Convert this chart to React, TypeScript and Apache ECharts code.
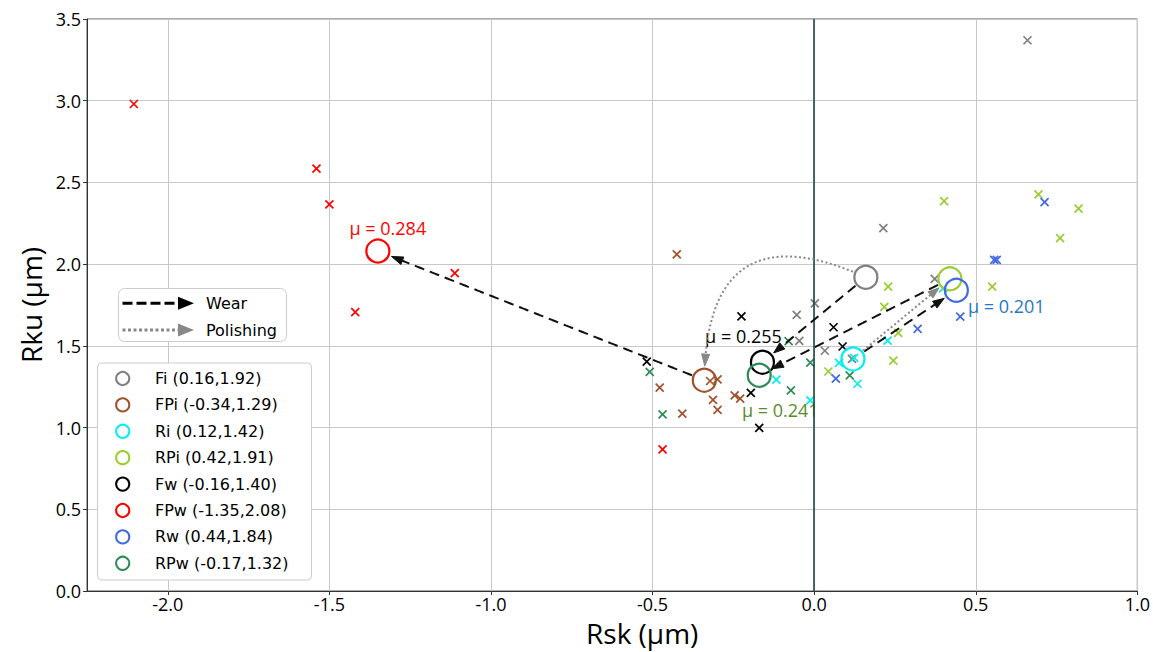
import React, { useEffect, useRef } from 'react';
import * as echarts from 'echarts';

// ---- data ----
const groups = ['Fi', 'FPi', 'Ri', 'RPi', 'Fw', 'FPw', 'Rw', 'RPw'];
const groupColors = ['#808080', '#a0522d', '#00f0f0', '#9acd32', '#000000', '#ff0000', '#4169e1', '#2e8b57'];
const meanRsk = [0.16, -0.34, 0.12, 0.42, -0.16, -1.35, 0.44, -0.17];
const meanRku = [1.92, 1.29, 1.42, 1.91, 1.40, 2.08, 1.84, 1.32];

const fiRsk = [0.66, 0.214, 0.002, -0.054, -0.046, 0.033, 0.117, 0.373];
const fiRku = [3.37, 2.22, 1.76, 1.69, 1.53, 1.47, 1.42, 1.91];
const fpiRsk = [-0.322, -0.299, -0.478, -0.408, -0.313, -0.299, -0.246, -0.229, -0.425];
const fpiRku = [1.285, 1.295, 1.244, 1.085, 1.169, 1.108, 1.197, 1.177, 2.06];
const riRsk = [-0.117, -0.012, 0.077, 0.124, 0.134, 0.227, 0.399];
const riRku = [1.293, 1.166, 1.396, 1.427, 1.268, 1.532, 1.852];
const rpiRsk = [0.402, 0.694, 0.818, 0.761, 0.551, 0.229, 0.217, 0.26, 0.245, 0.044];
const rpiRku = [2.386, 2.427, 2.34, 2.159, 1.862, 1.862, 1.738, 1.579, 1.41, 1.343];
const fwRsk = [-0.518, -0.225, -0.196, -0.17, 0.06, 0.088];
const fwRku = [1.404, 1.681, 1.212, 0.998, 1.614, 1.496];
const fpwRsk = [-2.105, -1.54, -1.5, -1.42, -1.112, -0.469];
const fpwRku = [2.98, 2.585, 2.366, 1.707, 1.945, 0.866];
const rwRsk = [0.713, 0.557, 0.565, 0.452, 0.32, 0.067];
const rwRku = [2.38, 2.026, 2.026, 1.679, 1.604, 1.299];
const rpwRsk = [-0.509, -0.469, -0.072, -0.079, -0.012, 0.11];
const rpwRku = [1.341, 1.081, 1.227, 1.529, 1.398, 1.319];

const sampleRsk = [fiRsk, fpiRsk, riRsk, rpiRsk, fwRsk, fpwRsk, rwRsk, rpwRsk];
const sampleRku = [fiRku, fpiRku, riRku, rpiRku, fwRku, fpwRku, rwRku, rpwRku];

const muGroups = ['FPw', 'Fw', 'RPw', 'Rw'];
const muValues = [0.284, 0.255, 0.241, 0.201];

const wearFrom = ['FPi', 'Fi', 'Ri', 'RPi'];
const wearTo = ['FPw', 'Fw', 'Rw', 'RPw'];
const polishFrom = ['Fi', 'Ri'];
const polishTo = ['FPi', 'RPi'];
const polishBend = [0.76, 0];

const xTicks = [-2.0, -1.5, -1.0, -0.5, 0.0, 0.5, 1.0];
const zeroLine = 0;

// ---- styles ----
const muLabelStyle: Record<string, { color: string; offset: number[] }> = {
  FPw: { color: '#ff0000', offset: [10, -23] },
  Fw: { color: '#000000', offset: [-19, -26] },
  RPw: { color: '#5a8c2c', offset: [21, 35] },
  Rw: { color: '#1f78c8', offset: [50, 16] },
};

const idx = (g: string) => groups.indexOf(g);

function renderArrow(params: any, api: any) {
  const s = api.coord([api.value(0), api.value(1)]);
  const e = api.coord([api.value(2), api.value(3)]);
  const kind = api.value(4);
  const bend = api.value(5);
  const dx = e[0] - s[0];
  const dy = e[1] - s[1];
  const cx = (s[0] + e[0]) / 2 - bend * dy;
  const cy = (s[1] + e[1]) / 2 + bend * dx;
  const N = 240;
  const pts: number[][] = [];
  for (let i = 0; i <= N; i++) {
    const t = i / N;
    const a = (1 - t) * (1 - t);
    const b = 2 * t * (1 - t);
    const c = t * t;
    pts.push([a * s[0] + b * cx + c * e[0], a * s[1] + b * cy + c * e[1]]);
  }
  const d = (p: number[], q: number[]) => Math.hypot(p[0] - q[0], p[1] - q[1]);
  const rA = 13;
  const rB = 14;
  let i0 = 0;
  while (i0 < N && d(pts[i0], s) < rA) i0++;
  let i1 = N;
  while (i1 > 0 && d(pts[i1], e) < rB) i1--;
  const tip = pts[i1];
  const headL = 11;
  const headW = 4;
  let ib = i1;
  while (ib > i0 && d(pts[ib], tip) < headL) ib--;
  const base = pts[ib];
  const len = d(tip, base) || 1;
  const ux = (tip[0] - base[0]) / len;
  const uy = (tip[1] - base[1]) / len;
  const nx = -uy;
  const ny = ux;
  const col = kind === 0 ? '#111111' : '#888888';
  const line = pts.slice(i0, ib + 1);
  return {
    type: 'group',
    children: [
      {
        type: 'polyline',
        shape: { points: line },
        style: { stroke: col, lineWidth: 2, lineDash: kind === 0 ? [10, 6] : [2, 2.5], fill: 'none' },
      },
      {
        type: 'polygon',
        shape: {
          points: [tip, [base[0] + nx * headW, base[1] + ny * headW], [base[0] - nx * headW, base[1] - ny * headW]],
        },
        style: { fill: col, stroke: col, lineWidth: 1 },
      },
    ],
  };
}

function buildOption() {
  const crossPath = 'path://M0,0L10,10M10,0L0,10';
  const sampleSeries = groups.map((g, i) => ({
    type: 'scatter',
    name: g + ' samples',
    data: sampleRsk[i].map((x, j) => [x, sampleRku[i][j]]),
    symbol: crossPath,
    symbolSize: 8,
    itemStyle: { color: groupColors[i], borderColor: groupColors[i], borderWidth: 1.7, opacity: 1 },
    z: 2,
    silent: true,
    ...(i === 0
      ? {
          markLine: {
            silent: true,
            symbol: 'none',
            label: { show: false },
            lineStyle: { color: '#1f4646', width: 1.6, type: 'solid', opacity: 1 },
            data: [{ xAxis: zeroLine }],
          },
        }
      : {}),
  }));

  const meanSeries = groups.map((g, i) => {
    const mi = muGroups.indexOf(g);
    const st = muLabelStyle[g];
    return {
      type: 'scatter',
      name: g,
      data: [[meanRsk[i], meanRku[i]]],
      symbol: 'circle',
      symbolSize: 23,
      itemStyle: { color: 'rgba(0,0,0,0)', borderColor: groupColors[i], borderWidth: 2.2, opacity: 1 },
      z: 3,
      silent: true,
      label:
        mi >= 0
          ? {
              show: true,
              position: 'inside',
              offset: st.offset,
              formatter: 'μ = ' + muValues[mi].toFixed(3),
              color: st.color,
              fontSize: 18,
              fontFamily: 'Open Sans',
            }
          : { show: false },
    };
  });

  const arrowData = [
    ...wearFrom.map((f, i) => [meanRsk[idx(f)], meanRku[idx(f)], meanRsk[idx(wearTo[i])], meanRku[idx(wearTo[i])], 0, 0]),
    ...polishFrom.map((f, i) => [
      meanRsk[idx(f)],
      meanRku[idx(f)],
      meanRsk[idx(polishTo[i])],
      meanRku[idx(polishTo[i])],
      1,
      polishBend[i],
    ]),
  ];

  const arrowSeries = {
    type: 'custom',
    name: 'arrows',
    data: arrowData,
    encode: { x: [0, 2], y: [1, 3] },
    renderItem: renderArrow,
    clip: false,
    silent: true,
    z: 5,
  };

  // legend graphics
  const leg2Top = 363;
  const rowY0 = 378.5;
  const rowDy = 26.4;
  const legendItems: any[] = [
    {
      type: 'rect',
      shape: { x: 97.5, y: leg2Top, width: 214, height: 217, r: 4 },
      style: { fill: '#ffffff', stroke: '#cccccc', lineWidth: 1 },
      z: 100,
    },
  ];
  groups.forEach((g, i) => {
    const y = rowY0 + i * rowDy;
    legendItems.push({
      type: 'circle',
      shape: { cx: 122.7, cy: y, r: 6.6 },
      style: { fill: '#ffffff', stroke: groupColors[i], lineWidth: 2 },
      z: 101,
    });
    legendItems.push({
      type: 'text',
      x: 155,
      y,
      style: {
        text: `${g} (${meanRsk[i].toFixed(2)},${meanRku[i].toFixed(2)})`,
        fill: '#000000',
        font: '16px "DejaVu Sans"',
        verticalAlign: 'middle',
        align: 'left',
      },
      z: 101,
    });
  });

  const wearY = 303.3;
  const polY = 330;
  const arrowKey: any[] = [
    {
      type: 'rect',
      shape: { x: 118.5, y: 288.5, width: 168, height: 53, r: 6 },
      style: { fill: '#ffffff', stroke: '#cccccc', lineWidth: 1 },
      z: 100,
    },
    {
      type: 'line',
      shape: { x1: 122.5, y1: wearY, x2: 181, y2: wearY },
      style: { stroke: '#000000', lineWidth: 3, lineDash: [10, 4] },
      z: 101,
    },
    {
      type: 'polygon',
      shape: { points: [[194, wearY], [178, wearY - 6.5], [178, wearY + 6.5]] },
      style: { fill: '#000000' },
      z: 101,
    },
    {
      type: 'line',
      shape: { x1: 122.5, y1: polY, x2: 179, y2: polY },
      style: { stroke: '#888888', lineWidth: 3, lineDash: [3, 2.5] },
      z: 101,
    },
    {
      type: 'polygon',
      shape: { points: [[194, polY], [178, polY - 6.5], [178, polY + 6.5]] },
      style: { fill: '#888888' },
      z: 101,
    },
    {
      type: 'text',
      x: 206,
      y: wearY,
      style: { text: 'Wear', fill: '#000', font: '16px "DejaVu Sans"', verticalAlign: 'middle' },
      z: 101,
    },
    {
      type: 'text',
      x: 206,
      y: polY,
      style: { text: 'Polishing', fill: '#000', font: '16px "DejaVu Sans"', verticalAlign: 'middle' },
      z: 101,
    },
  ];

  return {
    animation: false,
    backgroundColor: '#ffffff',
    grid: {
      left: 87,
      right: 10,
      top: 19,
      bottom: 59,
      show: true,
      borderColor: '#555555',
      borderWidth: 1,
      backgroundColor: 'transparent',
    },
    xAxis: {
      type: 'value',
      min: -2.25,
      max: 1.0,
      name: 'Rsk (μm)',
      nameLocation: 'middle',
      nameGap: 28,
      nameTextStyle: {
        fontFamily: 'Open Sans',
        fontSize: 28,
        lineHeight: 28,
        color: '#000',
        padding: [0, 0, 0, 60],
        verticalAlign: 'top',
      },
      axisLine: { show: true, onZero: false, lineStyle: { color: '#333', width: 1 } },
      axisTick: { show: true, length: 4, customValues: xTicks, lineStyle: { color: '#333' } },
      axisLabel: {
        customValues: xTicks,
        formatter: (v: number) => v.toFixed(1),
        fontFamily: 'Open Sans',
        fontSize: 18,
        lineHeight: 18,
        color: '#000',
        margin: 4,
      },
      splitLine: { show: true, lineStyle: { color: '#c8c8c8', width: 1 } },
    },
    yAxis: {
      type: 'value',
      min: 0,
      max: 3.5,
      interval: 0.5,
      name: 'Rku (μm)',
      nameLocation: 'middle',
      nameGap: 42,
      nameRotate: 90,
      nameTextStyle: { fontFamily: 'Open Sans', fontSize: 28, color: '#000' },
      axisLine: { show: true, onZero: false, lineStyle: { color: '#333', width: 1 } },
      axisTick: { show: true, length: 4, lineStyle: { color: '#333' } },
      axisLabel: {
        formatter: (v: number) => v.toFixed(1),
        fontFamily: 'Open Sans',
        fontSize: 18,
        color: '#000',
        margin: 6,
      },
      splitLine: { show: true, lineStyle: { color: '#c8c8c8', width: 1 } },
    },
    series: [...sampleSeries, ...meanSeries, arrowSeries],
    graphic: [...arrowKey, ...legendItems],
  };
}

export default function App() {
  const ref = useRef<HTMLDivElement>(null);
  useEffect(() => {
    if (!ref.current) return;
    const chart = echarts.init(ref.current, null, { renderer: 'svg' });
    chart.setOption(buildOption() as any);
    return () => {
      chart.dispose();
    };
  }, []);
  return (
    <div
      ref={ref}
      style={{ position: 'fixed', left: 0, top: 0, width: 1153, height: 652, background: '#ffffff' }}
    />
  );
}
